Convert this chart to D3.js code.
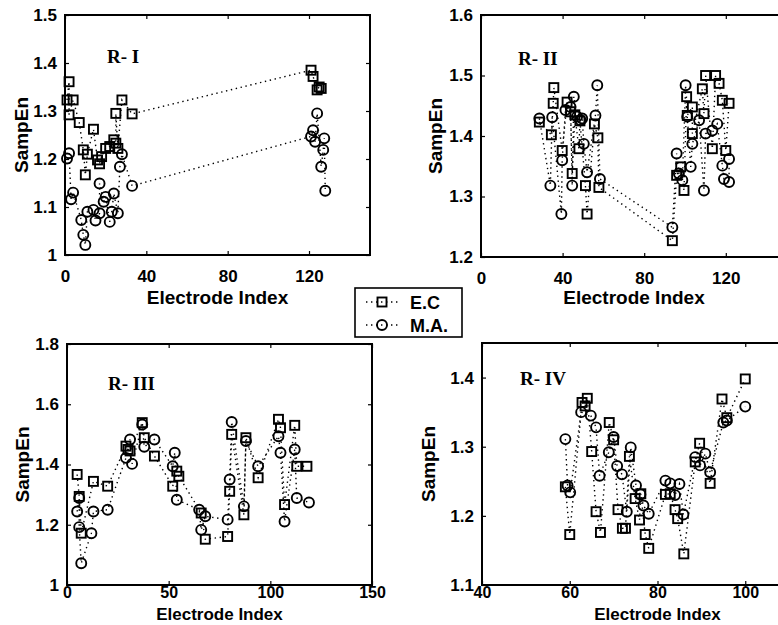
<!DOCTYPE html>
<html>
<head>
<meta charset="utf-8">
<script src="https://cdn.jsdelivr.net/npm/d3@7"></script>
<style>
  body { margin: 0; background: #fff; }
  svg { display: block; background: #fff; }
  .tick text { font-family: "Liberation Sans", Arial, sans-serif; font-weight: bold; font-size: 17px; fill: #000; }
  .axtitle { font-family: "Liberation Sans", Arial, sans-serif; font-weight: bold; font-size: 19px; fill: #000; }
  .plabel { font-family: "Liberation Serif", "Times New Roman", serif; font-weight: bold; font-size: 19px; fill: #000; }
  .legtext { font-family: "Liberation Sans", Arial, sans-serif; font-weight: bold; font-size: 18px; fill: #000; }
</style>
</head>
<body>
<div id="chart"></div>
<script>
// series names
var seriesNames = ["E.C", "M.A."];

// R- I : [electrode index, SampEn]
var r1EC = [[1,1.323],[2,1.361],[2,1.292],[4,1.323],[7,1.276],[9,1.219],[10,1.167],[11,1.210],[14,1.262],[16,1.198],[17,1.19],[18,1.205],[20,1.222],[22,1.226],[24,1.24],[25,1.233],[25,1.295],[26,1.222],[28,1.323],[33,1.294],[121,1.385],[122,1.372],[124,1.344],[125,1.35],[126,1.347]];
var r1MA = [[1,1.201],[2,1.212],[3,1.116],[4,1.130],[8,1.073],[9,1.042],[10,1.021],[11,1.090],[14,1.094],[15,1.072],[17,1.087],[17,1.149],[19,1.111],[20,1.121],[22,1.069],[23,1.090],[24,1.128],[26,1.087],[27,1.184],[28,1.210],[33,1.144],[121,1.247],[122,1.26],[123,1.236],[124,1.295],[126,1.184],[127,1.219],[127.5,1.243],[128,1.134]];

// R- II
var r2EC = [[28.6,1.423],[34.5,1.402],[35.4,1.454],[35.7,1.480],[39.8,1.376],[42.2,1.456],[43.9,1.44],[44.7,1.338],[46,1.435],[48,1.379],[48.5,1.425],[51.2,1.318],[52,1.271],[55.6,1.420],[57.3,1.397],[57.8,1.315],[93.8,1.227],[95.9,1.335],[97.9,1.349],[99.5,1.310],[100.8,1.465],[101.1,1.434],[103.6,1.448],[103.6,1.404],[108.5,1.478],[109.3,1.437],[110.1,1.500],[113.4,1.379],[115,1.500],[116.7,1.487],[118.3,1.459],[120,1.376],[121.6,1.454]];
var r2MA = [[28.6,1.429],[34,1.318],[34.9,1.431],[39.4,1.271],[39.8,1.360],[41.4,1.443],[43.9,1.448],[44.7,1.318],[45.5,1.465],[47.1,1.432],[48.8,1.426],[49.6,1.429],[50.4,1.387],[52,1.340],[56.1,1.434],[57,1.484],[58.3,1.329],[93.8,1.249],[95.9,1.371],[97,1.338],[98.7,1.327],[100.3,1.484],[101.1,1.432],[102.8,1.349],[103.6,1.387],[106.9,1.426],[109.3,1.310],[110.1,1.404],[113.4,1.409],[115.8,1.420],[118.3,1.351],[119.1,1.329],[121.6,1.324],[121.6,1.362]];

// R- III
var r3EC = [[5,1.367],[6,1.294],[7,1.172],[13,1.344],[20,1.328],[29,1.461],[30,1.45],[31,1.445],[37,1.539],[38,1.489],[43,1.428],[52,1.328],[54,1.378],[55,1.361],[66,1.239],[68,1.152],[79,1.161],[80,1.311],[81,1.5],[87,1.233],[88,1.489],[94,1.356],[104,1.55],[105,1.522],[107,1.267],[112,1.53],[113,1.394],[118,1.394]];
var r3MA = [[5,1.244],[6,1.289],[6,1.192],[7,1.072],[12,1.172],[13,1.244],[20,1.25],[29,1.422],[31,1.483],[32,1.402],[37,1.533],[38,1.459],[43,1.483],[52,1.394],[53,1.439],[54,1.283],[65,1.25],[66,1.183],[68,1.228],[79,1.217],[80,1.35],[81,1.541],[87,1.261],[88,1.478],[94,1.394],[104,1.494],[105,1.439],[107,1.211],[112,1.45],[113,1.289],[119,1.274]];

// R- IV
var r4EC = [[59,1.242],[60,1.173],[62.8,1.364],[63.5,1.359],[64,1.37],[65,1.293],[66,1.206],[67,1.176],[69,1.335],[70,1.31],[71,1.209],[72,1.182],[72.7,1.182],[73.6,1.286],[74.9,1.225],[75.9,1.194],[76.2,1.232],[77.2,1.173],[78,1.153],[81.8,1.231],[82.9,1.232],[84,1.209],[84.6,1.196],[86,1.145],[88.6,1.278],[89.6,1.305],[92,1.247],[94.7,1.369],[95.8,1.342],[100,1.398]];
var r4MA = [[59,1.311],[59.5,1.244],[60.1,1.234],[62.6,1.35],[64.8,1.345],[66,1.328],[66.8,1.258],[68.9,1.292],[70,1.314],[70.8,1.272],[71.9,1.26],[73,1.206],[73.9,1.299],[75.1,1.244],[76.1,1.231],[76.8,1.215],[78,1.203],[81.8,1.251],[82.9,1.247],[84,1.23],[85,1.246],[85.9,1.202],[88.6,1.285],[89.7,1.273],[90.9,1.29],[92,1.263],[95,1.335],[95.8,1.338],[100,1.358]];

// ticks
var xTicks12 = [0, 40, 80, 120];
var xTicks3 = [0, 50, 100, 150];
var xTicks4 = [40, 60, 80, 100];
var yTicks1 = [1, 1.1, 1.2, 1.3, 1.4, 1.5];
var yTicks2 = [1.2, 1.3, 1.4, 1.5, 1.6];
var yTicks3 = [1, 1.2, 1.4, 1.6, 1.8];
var yTicks4 = [1.1, 1.2, 1.3, 1.4];

var panels = [
	{ label: "R- I",   ec: r1EC, ma: r1MA, xd: [0,150],  yd: [1,1.5],   xt: xTicks12, yt: yTicks1,
	  left: 65,  top: 15,  w: 305, h: 240, xpad: 15, xfs: 17, titleY: 304, titleSize: 19, ylabX: 28,  lab: [42, 48] },
	{ label: "R- II",  ec: r2EC, ma: r2MA, xd: [0,150],  yd: [1.2,1.6], xt: xTicks12, yt: yTicks2,
	  left: 481, top: 15,  w: 306, h: 242, xpad: 15, xfs: 17, titleY: 304, titleSize: 19, ylabX: 442, lab: [37, 50] },
	{ label: "R- III", ec: r3EC, ma: r3MA, xd: [0,150],  yd: [1,1.8],   xt: xTicks3,  yt: yTicks3,
	  left: 67,  top: 344, w: 305, h: 241, xpad: 2,  xfs: 16, titleY: 620, titleSize: 17, ylabX: 29,  lab: [41, 46] },
	{ label: "R- IV",  ec: r4EC, ma: r4MA, xd: [40,120], yd: [1.1,1.45],xt: xTicks4,  yt: yTicks4,
	  left: 482, top: 343, w: 351, h: 242, xpad: 2,  xfs: 16, titleY: 620, titleSize: 17, ylabX: 435, lab: [38, 42] }
];

var width = 778,
	height = 625;

var svg = d3.select("#chart").append("svg")
	.attr("width", width)
	.attr("height", height);

var fmt = d3.format("~g");

function drawMarkers(g, pts, x, y, shape) {
	if(shape === "square") {
		g.selectAll(null).data(pts).enter().append("rect")
			.attr("x", function(d) { return x(d[0]) - 4.5; })
			.attr("y", function(d) { return y(d[1]) - 4.5; })
			.attr("width", 9).attr("height", 9)
			.attr("fill", "none").attr("stroke", "#000").attr("stroke-width", 1.9);
	} else {
		g.selectAll(null).data(pts).enter().append("circle")
			.attr("cx", function(d) { return x(d[0]); })
			.attr("cy", function(d) { return y(d[1]); })
			.attr("r", 5)
			.attr("fill", "none").attr("stroke", "#000").attr("stroke-width", 1.9);
	}
}

panels.forEach(function(p) {
	var x = d3.scaleLinear().domain(p.xd).range([p.left, p.left + p.w]),
		y = d3.scaleLinear().domain(p.yd).range([p.top + p.h, p.top]);

	var g = svg.append("g");

	// inward ticks on all four sides, like a boxed matlab axes
	var bottom = g.append("g").attr("transform", "translate(0," + (p.top + p.h) + ")")
		.call(d3.axisBottom(x).tickValues(p.xt).tickSize(-4).tickPadding(p.xpad).tickFormat(fmt));
	var topAx = g.append("g").attr("transform", "translate(0," + p.top + ")")
		.call(d3.axisTop(x).tickValues(p.xt).tickSize(-4).tickFormat(""));
	var leftAx = g.append("g").attr("transform", "translate(" + p.left + ",0)")
		.call(d3.axisLeft(y).tickValues(p.yt).tickSize(-4).tickPadding(8).tickFormat(fmt));
	var rightAx = g.append("g").attr("transform", "translate(" + (p.left + p.w) + ",0)")
		.call(d3.axisRight(y).tickValues(p.yt).tickSize(-4).tickFormat(""));

	[bottom, topAx, leftAx, rightAx].forEach(function(a) {
		a.select(".domain").remove();
		a.selectAll(".tick line").attr("stroke", "#000").attr("stroke-width", 1.2);
	});
	bottom.selectAll(".tick text").attr("dy", null).attr("dominant-baseline", "hanging")
		.style("font-size", p.xfs + "px");

	g.append("rect")
		.attr("x", p.left).attr("y", p.top)
		.attr("width", p.w).attr("height", p.h)
		.attr("fill", "none").attr("stroke", "#000").attr("stroke-width", 2);

	var line = d3.line().x(function(d) { return x(d[0]); }).y(function(d) { return y(d[1]); });

	[p.ec, p.ma].forEach(function(s) {
		g.append("path").attr("d", line(s))
			.attr("fill", "none").attr("stroke", "#000")
			.attr("stroke-width", 1.4).attr("stroke-dasharray", "1.4,3.6");
	});

	drawMarkers(g.append("g"), p.ec, x, y, "square");
	drawMarkers(g.append("g"), p.ma, x, y, "circle");

	g.append("text").attr("class", "plabel")
		.attr("x", p.left + p.lab[0]).attr("y", p.top + p.lab[1])
		.text(p.label);

	g.append("text").attr("class", "axtitle")
		.attr("x", p.left + p.w / 2).attr("y", p.titleY)
		.attr("text-anchor", "middle")
		.style("font-size", p.titleSize + "px")
		.text("Electrode Index");

	g.append("text").attr("class", "axtitle")
		.attr("transform", "translate(" + p.ylabX + "," + (p.top + p.h / 2) + ") rotate(-90)")
		.attr("text-anchor", "middle")
		.text("SampEn");
});

// legend between the panels
var leg = svg.append("g");
leg.append("rect")
	.attr("x", 355).attr("y", 288).attr("width", 107).attr("height", 49)
	.attr("fill", "#fff").attr("stroke", "#000").attr("stroke-width", 1.6);

seriesNames.forEach(function(name, i) {
	var yy = 302 + i * 23;
	leg.append("line")
		.attr("x1", 366).attr("x2", 398).attr("y1", yy).attr("y2", yy)
		.attr("stroke", "#000").attr("stroke-width", 1.4).attr("stroke-dasharray", "1.4,3.6");
	if(i === 0) {
		leg.append("rect").attr("x", 377.5).attr("y", yy - 4.5).attr("width", 9).attr("height", 9)
			.attr("fill", "none").attr("stroke", "#000").attr("stroke-width", 1.9);
	} else {
		leg.append("circle").attr("cx", 382).attr("cy", yy).attr("r", 5)
			.attr("fill", "none").attr("stroke", "#000").attr("stroke-width", 1.9);
	}
	leg.append("text").attr("class", "legtext")
		.attr("x", 410).attr("y", yy + 6.5)
		.text(name);
});
</script>
</body>
</html>
